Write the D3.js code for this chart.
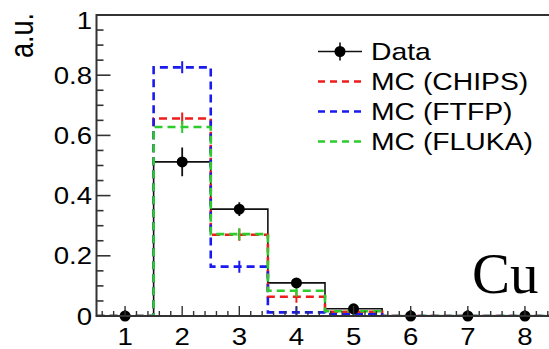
<!DOCTYPE html>
<html>
<head>
<meta charset="utf-8">
<script src="https://cdn.jsdelivr.net/npm/d3@7"></script>
<style>
  html, body { margin: 0; padding: 0; background: #fff; }
  svg { display: block; }
  text { font-family: "Liberation Sans", Arial, Helvetica, sans-serif; fill: #000; }
</style>
</head>
<body>
<svg id="chart" width="549" height="349"></svg>
<script>
// Multiplicity bins (1..8) and normalised yields
const bins = [1, 2, 3, 4, 5, 6, 7, 8];
const dataValues = [0, 0.512, 0.355, 0.110, 0.024, 0, 0, 0];
const dataErrors = [0.02, 0.048, 0.023, 0.012, 0.008, 0.02, 0.02, 0.02];
const chipsValues = [0, 0.656, 0.270, 0.064, 0.014, 0, 0, 0];
const ftfpValues = [0, 0.826, 0.164, 0.012, 0.006, 0, 0, 0];
const flukaValues = [0, 0.628, 0.272, 0.084, 0.016, 0, 0, 0];
const yTicks = [0, 0.2, 0.4, 0.6, 0.8, 1];
const xTicks = [1, 2, 3, 4, 5, 6, 7, 8];
const legendLabels = ["Data", "MC (CHIPS)", "MC (FTFP)", "MC (FLUKA)"];

const svg = d3.select("#chart");
const x = d3.scaleLinear().domain([0.5, 8.5]).range([96.5, 553.5]);
const y = d3.scaleLinear().domain([0, 1]).range([316, 15]);
const STRETCH = 1.15;

// Clip to the frame
svg.append("defs").append("clipPath").attr("id", "plot")
  .append("rect").attr("x", x(0.5)).attr("y", y(1) - 2)
  .attr("width", x(8.5) - x(0.5)).attr("height", y(0) - y(1) + 2);

// Step outline of a histogram
function stepPath(values) {
  const pts = [[x(0.5), y(0)]];
  values.forEach((v, i) => {
    pts.push([x(bins[i] - 0.5), y(v)]);
    pts.push([x(bins[i] + 0.5), y(v)]);
  });
  pts.push([x(8.5), y(0)]);
  return d3.line()(pts);
}

const plot = svg.append("g").attr("clip-path", "url(#plot)");

// Data histogram (solid)
plot.append("path").attr("d", stepPath(dataValues))
  .attr("fill", "none").attr("stroke", "#111").attr("stroke-width", 1.6);

const mcSeries = [
  { values: chipsValues, color: "#ee1c1c" },
  { values: ftfpValues, color: "#1a1aee" },
  { values: flukaValues, color: "#2ccc2c" }
];

mcSeries.forEach(s => {
  plot.append("path").attr("d", stepPath(s.values))
    .attr("fill", "none").attr("stroke", s.color)
    .attr("stroke-width", 2.6).attr("stroke-dasharray", "8,5");
  // small statistical bars at bin centres
  plot.selectAll(null).data(s.values.map((v, i) => [bins[i], v]))
    .enter().append("line")
    .attr("x1", d => x(d[0])).attr("x2", d => x(d[0]))
    .attr("y1", d => y(d[1]) - 6).attr("y2", d => y(d[1]) + 6)
    .attr("stroke", s.color).attr("stroke-width", 2);
});

// Data points with error bars
plot.selectAll(null).data(dataValues.map((v, i) => [bins[i], v, dataErrors[i]]))
  .enter().append("line")
  .attr("x1", d => x(d[0])).attr("x2", d => x(d[0]))
  .attr("y1", d => y(d[1] + d[2])).attr("y2", d => y(d[1] - d[2]))
  .attr("stroke", "#111").attr("stroke-width", 1.8);

svg.selectAll(null).data(dataValues.map((v, i) => [bins[i], v]))
  .enter().append("circle")
  .attr("cx", d => x(d[0])).attr("cy", d => y(d[1])).attr("r", 5.5)
  .attr("fill", "#000");

// Frame and axes
const axisColor = "#333";
svg.append("line").attr("x1", x(0.5)).attr("x2", x(8.5)).attr("y1", y(1)).attr("y2", y(1))
  .attr("stroke", axisColor).attr("stroke-width", 2);
svg.append("line").attr("x1", x(0.5)).attr("x2", x(0.5)).attr("y1", y(1) - 1).attr("y2", y(0) + 1)
  .attr("stroke", axisColor).attr("stroke-width", 2);
svg.append("line").attr("x1", x(0.5)).attr("x2", x(8.5)).attr("y1", y(0)).attr("y2", y(0))
  .attr("stroke", axisColor).attr("stroke-width", 2);

// Y ticks (inward)
const yMinor = d3.range(0, 1.0001, 0.05);
svg.selectAll(null).data(yMinor).enter().append("line")
  .attr("x1", x(0.5)).attr("x2", (d) => x(0.5) + (yTicks.some(t => Math.abs(t - d) < 1e-6) ? 14 : 7))
  .attr("y1", d => y(d)).attr("y2", d => y(d))
  .attr("stroke", axisColor).attr("stroke-width", 1.6);

svg.selectAll(null).data(yTicks).enter().append("text")
  .attr("transform", d => `translate(92,${Math.max(y(d) + 8.5, 29)}) scale(${STRETCH},1)`)
  .attr("text-anchor", "end").attr("font-size", 24)
  .text(d => d3.format("~g")(d));

// X ticks (inward)
const xMinor = d3.range(0.6, 8.5, 0.2);
svg.selectAll(null).data(xMinor).enter().append("line")
  .attr("x1", d => x(d)).attr("x2", d => x(d))
  .attr("y1", y(0))
  .attr("y2", d => y(0) - (xTicks.some(t => Math.abs(t - d) < 1e-6) ? 10 : 5))
  .attr("stroke", axisColor).attr("stroke-width", 1.4);

svg.selectAll(null).data(xTicks).enter().append("text")
  .attr("transform", d => `translate(${x(d)},345) scale(${STRETCH},1)`)
  .attr("text-anchor", "middle").attr("font-size", 24)
  .text(d => d);

// Axis title
svg.append("text")
  .attr("transform", `translate(33,13) scale(1.2,1) rotate(-90)`)
  .attr("text-anchor", "end").attr("font-size", 27)
  .text("a.u.");

// Target label
svg.append("text")
  .attr("x", 472).attr("y", 293)
  .style("font-family", "'Liberation Serif', 'Times New Roman', serif")
  .attr("font-size", 57)
  .text("Cu");

// Legend
const legend = svg.append("g");
const legendColors = ["#111", "#ee1c1c", "#1a1aee", "#2ccc2c"];
legendLabels.forEach((label, i) => {
  const base = 60 + i * 30;
  const mid = base - 8.5;
  if (i === 0) {
    legend.append("line").attr("x1", 318).attr("x2", 362).attr("y1", mid).attr("y2", mid)
      .attr("stroke", "#111").attr("stroke-width", 1.6);
    legend.append("line").attr("x1", 340).attr("x2", 340).attr("y1", mid - 9).attr("y2", mid + 9)
      .attr("stroke", "#111").attr("stroke-width", 1.6);
    legend.append("circle").attr("cx", 340).attr("cy", mid).attr("r", 5.5).attr("fill", "#000");
  } else {
    legend.append("line").attr("x1", 318).attr("x2", 362).attr("y1", mid).attr("y2", mid)
      .attr("stroke", legendColors[i]).attr("stroke-width", 2.6).attr("stroke-dasharray", "7,5");
  }
  legend.append("text")
    .attr("transform", `translate(371,${base}) scale(1.18,1)`)
    .attr("font-size", 24)
    .text(label);
});
</script>
</body>
</html>
